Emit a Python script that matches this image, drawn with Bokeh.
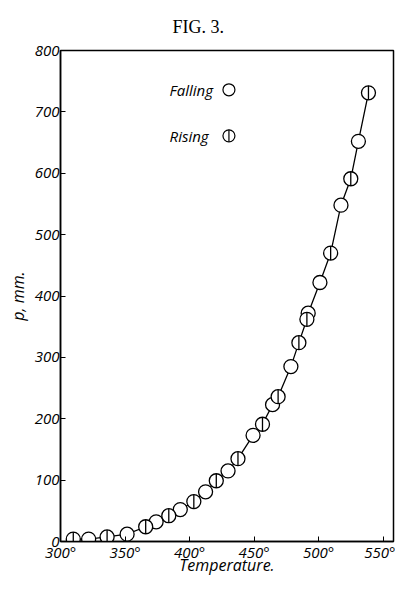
import math
from bokeh.plotting import figure
from bokeh.models import Range1d, FixedTicker, Label, ColumnDataSource
from bokeh.embed import file_html
from bokeh.resources import INLINE

# Data (temperature in degrees, pressure in mm)
temp_falling = [321.8, 351.6, 374.1, 392.8, 412.4, 429.8, 449.2, 464.3, 478.5, 491.9, 501.0, 517.3, 530.8]
p_falling = [4, 12, 32, 52, 81, 115, 173, 223, 285, 372, 422, 548, 652]
temp_rising = [309.9, 336.1, 366.0, 383.9, 403.3, 420.7, 437.5, 456.5, 468.6, 484.7, 490.9, 509.3, 524.9, 538.6]
p_rising = [4, 7.5, 24, 42, 65, 99, 135, 191, 236, 324, 362, 470, 591, 731]

x_ticks = [300, 350, 400, 450, 500, 550]
x_tick_labels = ["300°", "350°", "400°", "450°", "500°", "550°"]
y_ticks = [0, 100, 200, 300, 400, 500, 600, 700, 800]

title_text = "FIG. 3."
x_title = "Temperature."
y_title = "p, mm."
legend_labels = ["Falling", "Rising"]

FONT = "Open Sans"

p = figure(width=395, height=578, output_backend="svg", toolbar_location=None,
           x_range=Range1d(300, 558), y_range=Range1d(0, 800),
           min_border_left=60, min_border_right=2, min_border_top=47, min_border_bottom=0,
           title=title_text)
p.background_fill_color = "white"
p.border_fill_color = "white"
p.grid.visible = False
p.outline_line_color = "black"
p.outline_line_width = 1.5

p.title.text_font = "Liberation Serif"
p.title.text_font_size = "18px"
p.title.text_font_style = "normal"
p.title.text_color = "black"
p.title.align = "left"
p.title.offset = 112
p.title.standoff = 28

for ax in (p.xaxis[0], p.yaxis[0]):
    ax.axis_line_width = 1.5
    ax.axis_line_color = "black"
    ax.major_tick_line_color = "black"
    ax.major_tick_in = 5
    ax.major_tick_out = 0
    ax.minor_tick_line_color = None
    ax.major_label_text_font = FONT
    ax.major_label_text_font_style = "italic"
    ax.major_label_text_font_size = "15px"
    ax.major_label_text_color = "black"
    ax.axis_label_text_font = FONT
    ax.axis_label_text_font_style = "italic"
    ax.axis_label_text_font_size = "16px"
    ax.axis_label_text_color = "black"

p.xaxis.ticker = FixedTicker(ticks=x_ticks)
p.xaxis.major_label_overrides = {t: l for t, l in zip(x_ticks, x_tick_labels)}
p.xaxis.axis_label = x_title
p.xaxis.major_label_standoff = 0
p.xaxis.axis_label_standoff = -11

p.yaxis.ticker = FixedTicker(ticks=y_ticks)
p.yaxis.axis_label = y_title
p.yaxis.major_label_standoff = 1
p.yaxis.axis_label_standoff = 3

# Curve through all observations
pts = sorted(zip(temp_falling + temp_rising, p_falling + p_rising))
curve = ColumnDataSource(dict(x=[a for a, _ in pts], y=[b for _, b in pts]))
p.line("x", "y", source=curve, line_color="black", line_width=1.3)

fall_src = ColumnDataSource(dict(x=temp_falling, y=p_falling))
rise_src = ColumnDataSource(dict(x=temp_rising, y=p_rising))

p.scatter("x", "y", source=fall_src, marker="circle", size=14, fill_color="white",
          line_color="black", line_width=1.3)
p.scatter("x", "y", source=rise_src, marker="circle", size=14, fill_color="white",
          line_color="black", line_width=1.3)
p.scatter("x", "y", source=rise_src, marker="dash", size=14, angle=math.pi / 2,
          line_color="black", line_width=1.3)

# Legend (text left of symbol, as in the original)
leg_text_x = 384.5
leg_mark_x = 430.5
leg_y = [736, 661]
for lab, yy in zip(legend_labels, leg_y):
    p.add_layout(Label(x=leg_text_x, y=yy, text=lab, text_font=FONT,
                       text_font_style="italic", text_font_size="15px",
                       text_color="black",
                       text_baseline="middle", text_align="left"))
leg_src = ColumnDataSource(dict(x=[leg_mark_x, leg_mark_x], y=leg_y))
p.scatter("x", "y", source=leg_src, marker="circle", size=12, fill_color="white",
          line_color="black", line_width=1.2)
p.scatter(x=[leg_mark_x], y=[leg_y[1]], marker="dash", size=12, angle=math.pi / 2,
          line_color="black", line_width=1.2)

open("out.html", "w").write(file_html(p, INLINE))
